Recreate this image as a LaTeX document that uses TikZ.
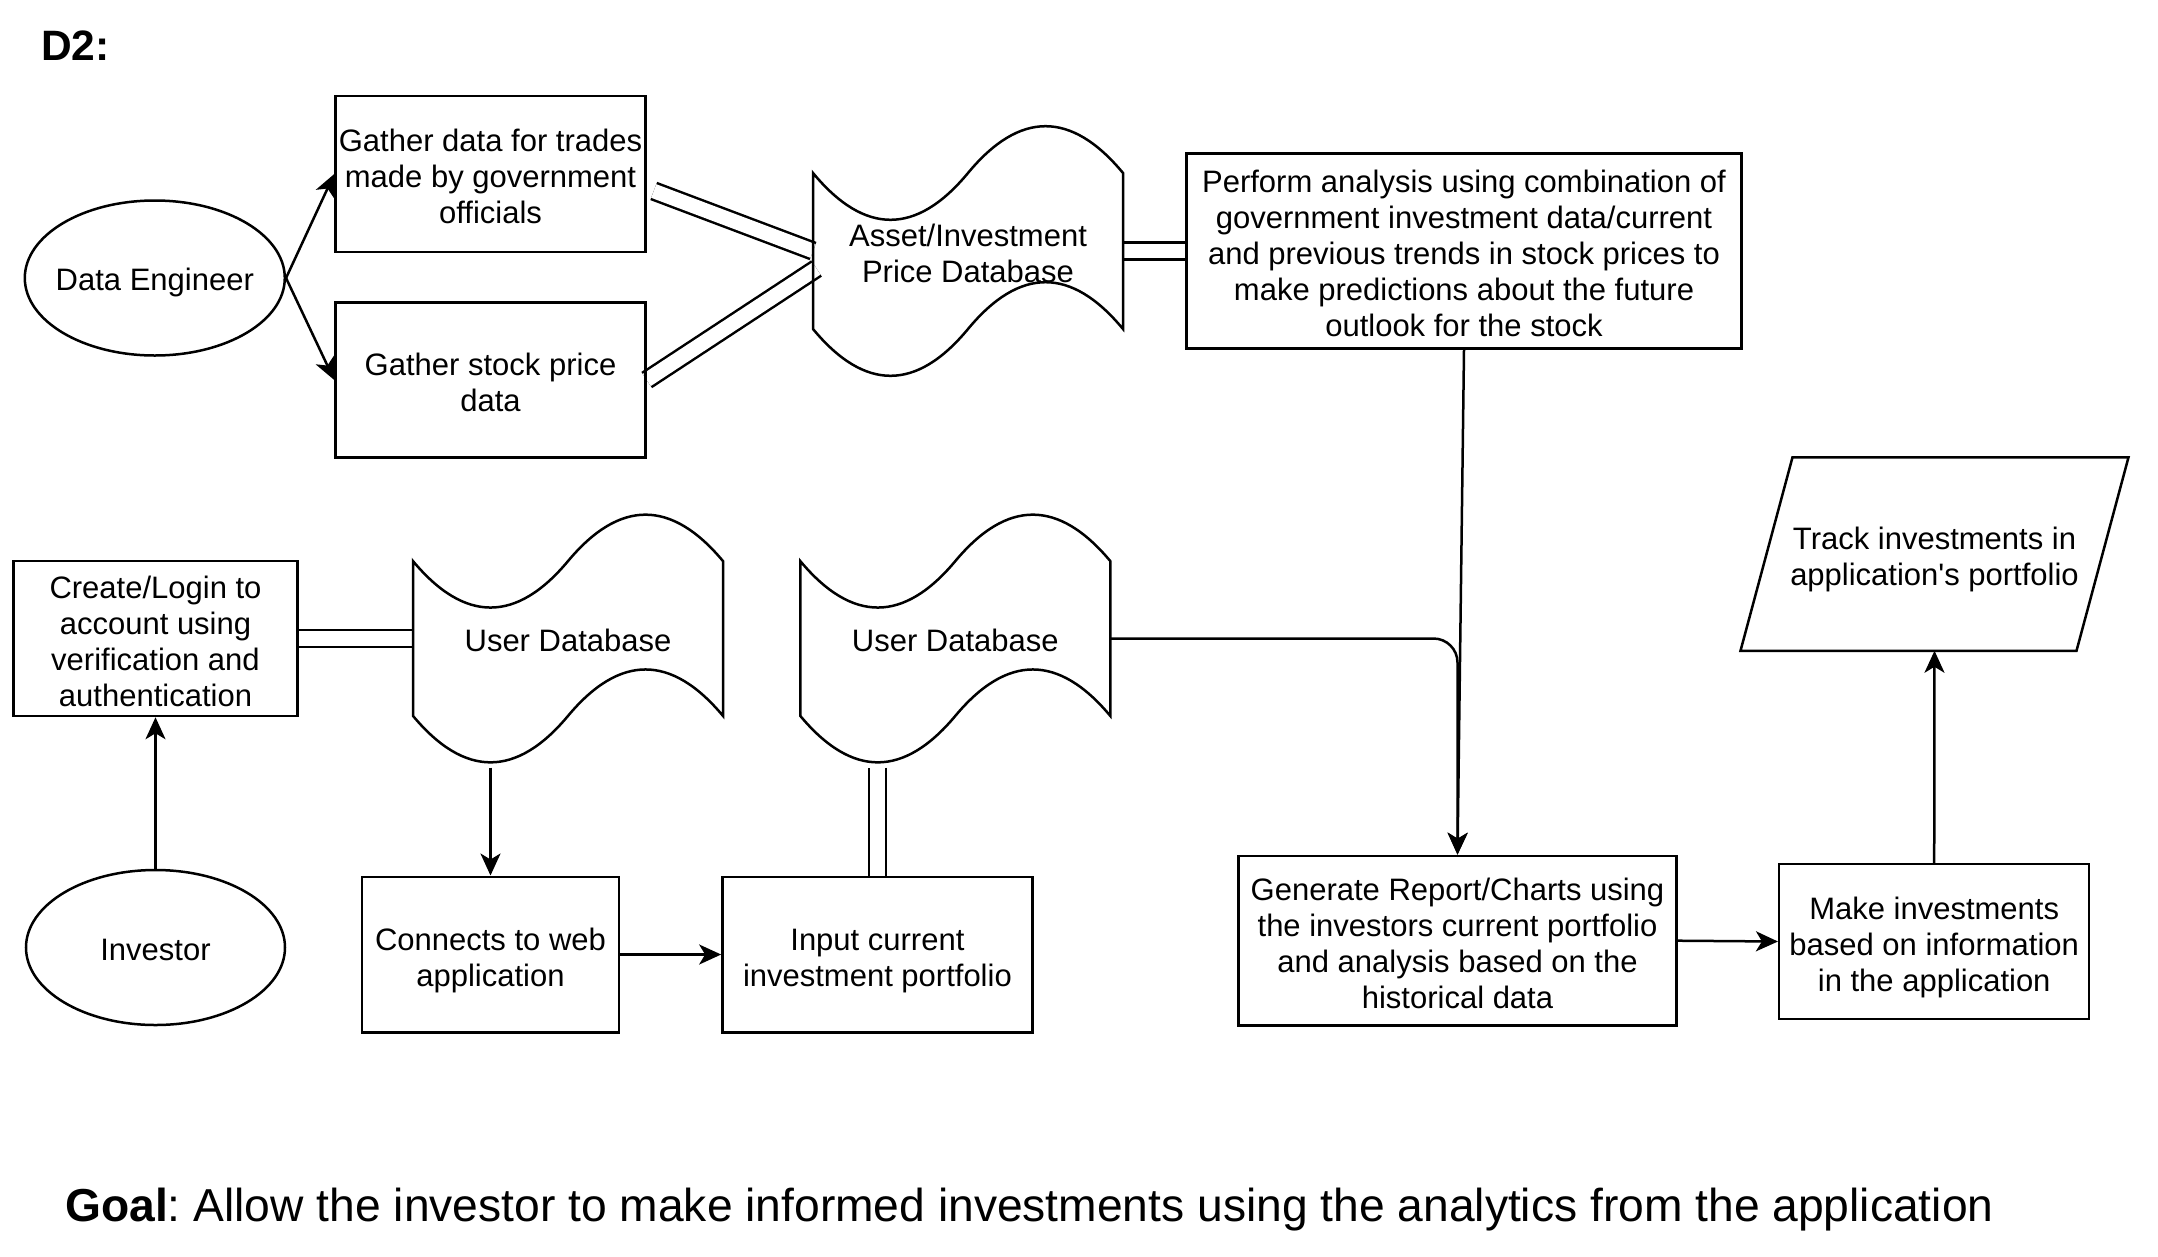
\documentclass[tikz,border=0pt]{standalone}
\usepackage{fontspec}
\setmainfont{Liberation Sans}[Ligatures=TeXOff]
\usetikzlibrary{arrows.meta,calc,shapes.geometric}
\pgfdeclarelayer{bg}
\pgfsetlayers{bg,main}
\newcommand\dgfont{\fontsize{31}{36}\selectfont\frenchspacing}
\newcommand\lsa{\rule{0pt}{34.8pt}}
\newcommand\lsb{\rule[-7.2pt]{0pt}{7.2pt}}
\newcommand\lsone{\rule[-7.2pt]{0pt}{40pt}}
\tikzset{
  lw/.style={line width=2.5pt},
  boxst/.style={draw, lw, rectangle, align=center, font=\dgfont, inner sep=0pt},
  ellst/.style={draw, lw, ellipse, align=center, font=\dgfont, inner sep=0pt},
  shapest/.style={rectangle, align=center, font=\dgfont, inner sep=0pt, outer sep=0pt},
  arr/.style={lw, -{Stealth[length=22pt,width=20pt,inset=6pt]}},
  linkst/.style={lw, double=white, double distance=14.5pt},
}
\newcommand\tapeoutline[1]{%
\draw[lw] let \p1=(#1.north west), \p2=(#1.south east), \n1={\x2-(\x1)}, \n2={0.4*(\y1-(\y2))} in
 (\x1,\y1-0.5*\n2) .. controls (\x1+\n1/6,\y1-1.1*\n2) and (\x1+\n1/3,\y1-1.1*\n2) .. (\x1+0.5*\n1,\y1-0.5*\n2)
 .. controls (\x1+2*\n1/3,\y1+0.1*\n2) and (\x1+5*\n1/6,\y1+0.1*\n2) .. (\x2,\y1-0.5*\n2)
 -- (\x2,\y2+0.5*\n2)
 .. controls (\x1+5*\n1/6,\y2+1.1*\n2) and (\x1+2*\n1/3,\y2+1.1*\n2) .. (\x1+0.5*\n1,\y2+0.5*\n2)
 .. controls (\x1+\n1/3,\y2-0.1*\n2) and (\x1+\n1/6,\y2-0.1*\n2) .. (\x1,\y2+0.5*\n2) -- cycle;}
\begin{document}
\begin{tikzpicture}[x=1pt,y=-1pt]
\useasboundingbox (0,0) rectangle (2158,1256);

% title
\node[anchor=base west, font=\fontsize{42.5}{50}\selectfont\bfseries, inner sep=0pt] (title) at (41,60) {D2:};

% top row
\node[ellst, minimum width=260, minimum height=155] (de) at (154.8,278) {\makebox[0pt]{\lsone Data Engineer}};
\node[boxst, minimum width=310, minimum height=156] (gd) at (490.5,174) {\lsa Gather data for trades\\made by government\\officials\lsb};
\node[boxst, minimum width=310, minimum height=155] (gs) at (490.5,380) {\lsa Gather stock price\\data\lsb};
\node[shapest, minimum width=310, minimum height=260] (asset) at (968,251) {\lsa Asset/Investment\\Price Database\lsb};
\tapeoutline{asset}
\node[boxst, minimum width=555, minimum height=195] (perf) at (1464,251) {\lsa Perform analysis using combination of\\government investment data/current\\and previous trends in stock prices to\\make predictions about the future\\outlook for the stock\lsb};

% middle row
\node[boxst, minimum width=284, minimum height=155] (create) at (155.5,638.5) {\lsa Create/Login to\\account using\\verification and\\authentication\lsb};
\node[shapest, minimum width=310, minimum height=258] (db1) at (568,638.5) {\lsone User Database};
\tapeoutline{db1}
\node[shapest, minimum width=310, minimum height=258] (db2) at (955.3,638.5) {\lsone User Database};
\tapeoutline{db2}
\node[shapest, minimum width=388, minimum height=193.5] (track) at (1934.5,554) {\lsa Track investments in\\application's portfolio\lsb};
\draw[lw] ($(track.north west)+(52,0)$) -- (track.north east) -- ($(track.south east)+(-52,0)$) -- (track.south west) -- cycle;

% bottom row
\node[ellst, minimum width=259, minimum height=155] (inv) at (155.5,947.5) {\makebox[0pt]{\lsone Investor}};
\node[boxst, minimum width=257, minimum height=155.5] (conn) at (490.5,954.5) {\lsa Connects to web\\application\lsb};
\node[boxst, minimum width=310, minimum height=155.5] (input) at (877.4,954.5) {\lsa Input current\\investment portfolio\lsb};
\node[boxst, minimum width=438, minimum height=169.5] (gen) at (1457.5,940.7) {\lsa Generate Report/Charts using\\the investors current portfolio\\and analysis based on the\\historical data\lsb};
\node[boxst, minimum width=310, minimum height=155] (make) at (1934.2,941.5) {\lsa Make investments\\based on information\\in the application\lsb};

% goal
\node[anchor=base west, inner sep=0pt, font=\fontsize{46.2}{56}\selectfont\frenchspacing] (goal) at (65,1221) {\textbf{Goal}: Allow the investor to make informed investments using the analytics from the application};

% arrows
\draw[arr] (de.east) -- (gd.west);
\draw[arr] (de.east) -- (gs.west);
\draw[arr] (perf.south) -- (gen.north);
\draw[arr, rounded corners=24pt] (db2.east) -| (gen.north);
\draw[arr] (inv.north) -- (create.south);
\draw[arr] (conn.north |- db1.south) -- (conn.north);
\draw[arr] (conn.east) -- (input.west);
\draw[arr] (gen.east) -- (make.west);
\draw[arr] (make.north) -- (track.south);

% double links
\begin{pgfonlayer}{bg}
\fill[white] (0,0) rectangle (2158,1256);
\draw[linkst] ($(gd.east)+(7,17)$) -- (asset.west);
\draw[linkst] (gs.east) -- ($(asset.west)+(3.5,17.5)$);
\draw[linkst] (asset.east) -- (perf.west);
\draw[linkst] (create.east) -- (db1.west);
\draw[linkst] (input.north |- db2.south) -- (input.north);
\end{pgfonlayer}
\end{tikzpicture}
\end{document}
